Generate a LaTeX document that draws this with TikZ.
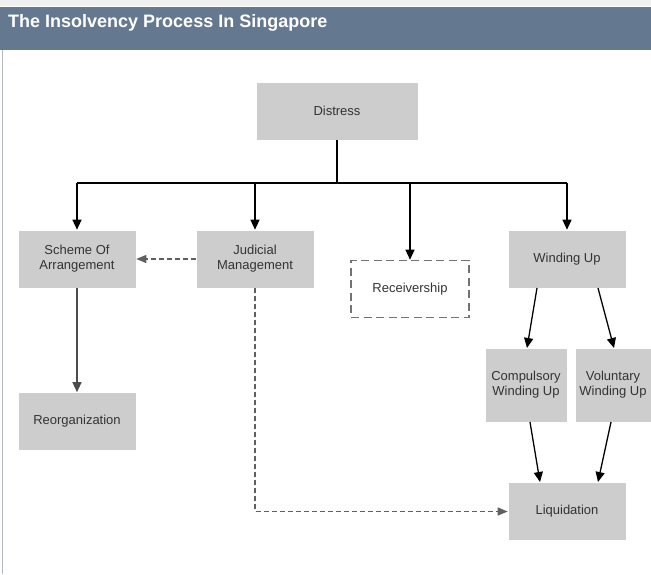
\documentclass[tikz,border=0pt]{standalone}
\usepackage{fontspec}
\setmainfont{Liberation Sans}
\usetikzlibrary{arrows.meta}
\definecolor{hdr}{HTML}{64788F}
\definecolor{boxfill}{HTML}{CDCDCD}
\definecolor{txt}{HTML}{333333}
\begin{document}
\begin{tikzpicture}[x=1pt,y=-1pt,
  box/.style={fill=boxfill,draw=white,line width=0.6pt,minimum width=118pt,minimum height=58pt,inner sep=0pt,align=center,font=\fontsize{13}{15}\selectfont,text=txt},
  dbox/.style={draw=gray!90!black,dash pattern=on 8pt off 4.5pt,line width=1.6pt,minimum width=118pt,minimum height=57pt,inner sep=0pt,align=center,font=\fontsize{13}{15}\selectfont,text=txt},
  conn/.style={line width=1.3pt,-{Triangle[length=10pt,width=9pt]}},
  dconn/.style={line width=1.4pt,gray!75!black,dash pattern=on 5pt off 3pt,-{Triangle[length=10pt,width=8pt]}}]
\useasboundingbox (0,0) rectangle (651,574);
\fill[white] (0,0) rectangle (651,574);
\fill[gray!12] (0,0) rectangle (651,6);
\fill[hdr] (0,7) rectangle (651,50);
\draw[hdr!50,line width=0.8pt] (2.5,50) -- (2.5,574);
\node[anchor=west,text=white,font=\bfseries\fontsize{18}{20}\selectfont,inner sep=0pt] (title) at (8,23) {The Insolvency Process In Singapore};

\node[box,minimum width=162pt] (distress) at (337,111) {Distress};
\node[box] (scheme) at (77,259) {Scheme Of\\Arrangement};
\node[box] (judicial) at (255,259) {Judicial\\Management};
\node[dbox] (receiver) at (410,289) {Receivership};
\node[box] (winding) at (567,259) {Winding Up};
\node[box] (reorg) at (77,421.5) {Reorganization};
\node[box,minimum width=82pt,minimum height=74pt] (compulsory) at (526,385) {Compulsory\\Winding Up};
\node[box,minimum width=76pt,minimum height=74pt] (voluntary) at (613,385) {Voluntary\\Winding Up};
\node[box] (liquidation) at (567,511.5) {Liquidation};

\coordinate (bus) at (337,183);
\draw[line width=1.3pt] (distress.south) -- (bus);
\draw[line width=1.3pt] (77,183) -- (567,183);
\draw[conn] (77,183) -- (scheme.north);
\draw[conn] (255,183) -- (judicial.north);
\draw[conn] (410,183) -- (receiver.north);
\draw[conn] (567,183) -- (winding.north);
\draw[dconn] (judicial.west) -- (scheme.east);
\draw[conn,draw=black!70] (scheme.south) -- (reorg.north);
\draw[conn] (537,288) -- (527,348);
\draw[conn] (598,288) -- (614,348);
\draw[conn] (530,422) -- (540,482);
\draw[conn] (611,422) -- (598,482);
\draw[dconn] (judicial.south) |- (liquidation.west);
\end{tikzpicture}
\end{document}
